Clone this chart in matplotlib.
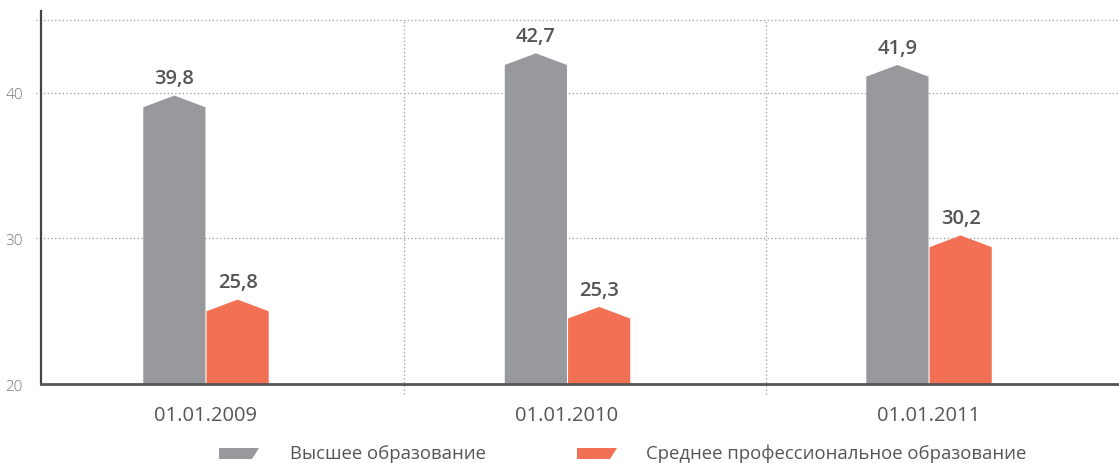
import matplotlib
matplotlib.use("Agg")
import matplotlib.pyplot as plt
from matplotlib.patches import Polygon

plt.rcParams['font.family'] = ['Open Sans', 'DejaVu Sans']

# Доля работников по уровню образования, %
dates = ["01.01.2009", "01.01.2010", "01.01.2011"]
higher = [39.8, 42.7, 41.9]
vocational = [25.8, 25.3, 30.2]
series_names = ["Высшее образование", "Среднее профессиональное образование"]
y_ticks = [20, 30, 40]

gray = "#98999d"
orange = "#f27154"
text_color = "#555555"
grid_color = "#9a9a9a"

bar_w = 0.172
roof = 0.8  # height of the pointed top

fig = plt.figure(figsize=(11.19, 4.64), dpi=100)
ax = fig.add_axes([0.0366, 0.170, 0.9634, 0.804])
ax.set_xlim(-0.455, 2.527)
ax.set_ylim(20, 45.6)


def pent_bar(x0, value, color):
    # column with a gabled top, peak sits on the value
    x1 = x0 + bar_w
    xm = x0 + bar_w / 2
    pts = [(x0, 20), (x0, value - roof), (xm, value), (x1, value - roof), (x1, 20)]
    ax.add_patch(Polygon(pts, closed=True, facecolor=color, edgecolor="none", zorder=3))
    ax.text(xm, value + 0.5, f"{value:.1f}".replace(".", ","), ha="center", va="bottom",
            fontsize=14.5, fontweight="semibold", color=text_color, zorder=4)


for i in range(len(dates)):
    pent_bar(i - bar_w, higher[i], gray)
    pent_bar(i + 0.003, vocational[i], orange)

# dotted grid
for y in [30, 40, 45]:
    ax.plot([-0.469, 2.527], [y, y], linestyle=(0, (1, 2)), color=grid_color,
            linewidth=0.9, clip_on=False, zorder=1)
for x in [0.55, 1.55]:
    ax.plot([x, x], [19.3, 45], linestyle=(0, (1, 2)), color=grid_color,
            linewidth=0.9, clip_on=False, zorder=1)

for side in ["top", "right"]:
    ax.spines[side].set_visible(False)
ax.spines["left"].set_color("#444444")
ax.spines["left"].set_linewidth(1.6)
ax.spines["bottom"].set_color("#555555")
ax.spines["bottom"].set_linewidth(2)
ax.spines["bottom"].set_zorder(5)

ax.set_yticks(y_ticks)
ax.set_yticklabels([str(t) for t in y_ticks], fontsize=11, color="#777777",
                   fontweight="light")
ax.tick_params(axis="y", length=0, pad=13)
ax.set_xticks(range(len(dates)))
ax.set_xticklabels(dates, fontsize=14.5, color=text_color, fontweight="medium")
ax.tick_params(axis="x", length=0, pad=15)

# legend with slanted swatches
def swatch(x_px, color):
    W, H = 1119, 464
    pts = [(x_px, 449), (x_px + 40, 449), (x_px + 33, 460), (x_px, 460)]
    pts = [(px / W, 1 - py / H) for px, py in pts]
    fig.patches.append(Polygon(pts, closed=True, facecolor=color, edgecolor="none",
                               transform=fig.transFigure, figure=fig))

swatch(219, gray)
fig.text(290 / 1119, 1 - 454 / 464, series_names[0], fontsize=13.3, color=text_color, va="center")
swatch(577, orange)
fig.text(646 / 1119, 1 - 454 / 464, series_names[1], fontsize=13.3, color=text_color, va="center")

fig.savefig("out.png", dpi=100)
